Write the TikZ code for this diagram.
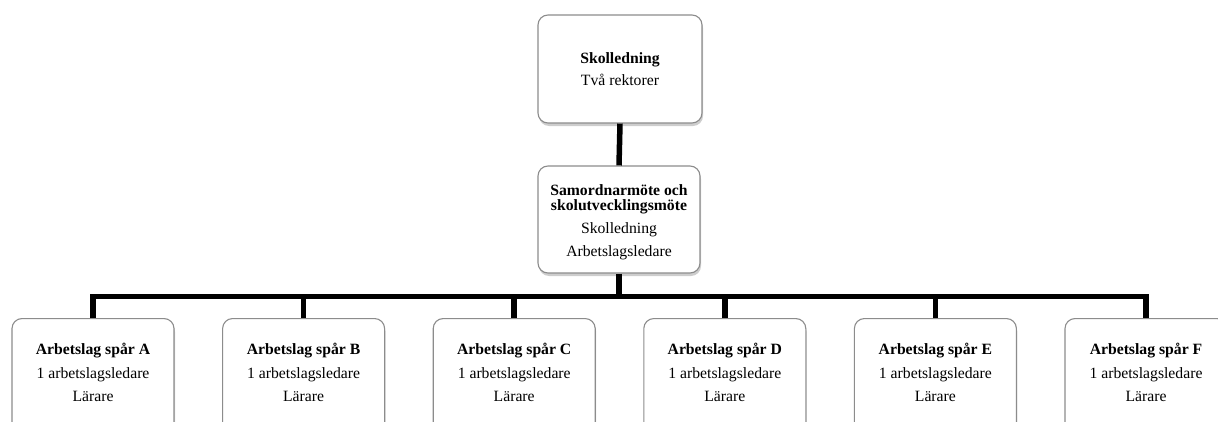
\documentclass[tikz,border=0pt]{standalone}
\usepackage{fontspec}
\setmainfont{Liberation Serif}
\usetikzlibrary{shadows}
\definecolor{boxgray}{RGB}{140,140,140}
\begin{document}
\begin{tikzpicture}[x=1bp,y=1bp,
  box/.style={draw=boxgray, line width=1.1bp, rounded corners=10bp, fill=white,
    drop shadow={shadow xshift=1bp, shadow yshift=-3bp, opacity=0.28, fill=black!70},
    inner sep=0pt},
  conn/.style={line width=5.5bp, black, line join=miter},
  txt/.style={font=\fontsize{15.7bp}{18bp}\selectfont, anchor=base, inner sep=0pt},
  btxt/.style={txt, font=\fontsize{15.7bp}{18bp}\selectfont\bfseries}]
\clip (0,0) rectangle (1218,421);
\useasboundingbox (0,0) rectangle (1218,421);
% boxes
\node[box, minimum width=164bp, minimum height=108bp] (top) at (620,352) {};
\node[box, minimum width=162bp, minimum height=107bp] (mid) at (619,201.5) {};
\foreach \n/\cx in {A/93, B/303.6, C/514.2, D/724.8, E/935.4, F/1146}{
  \node[box, minimum width=162bp, minimum height=140bp, anchor=north] (b\n) at (\cx,103) {};
}
% connectors
\coordinate (bar) at (0,124.5);
\draw[conn] (top.south) -- (mid.north);
\draw[conn] (mid.south) -- (mid.south |- bar);
\draw[conn] (bA.north) -- (bA.north |- bar) -- (bF.north |- bar) -- (bF.north);
\foreach \n in {B,C,D,E}{
  \draw[conn] (b\n.north) -- (b\n.north |- bar);
}
% texts
\node[btxt] (t1) at (620,358) {Skolledning};
\node[txt] (t2) at (620,336) {Två rektorer};
\node[btxt] (m1) at (619,226) {Samordnarmöte och};
\node[btxt] (m2) at (619,211) {skolutvecklingsmöte};
\node[txt] (m3) at (619,188) {Skolledning};
\node[txt] (m4) at (619,165) {Arbetslagsledare};
\foreach \n/\cx in {A/93, B/303.6, C/514.2, D/724.8, E/935.4, F/1146}{
  \node[btxt] (h\n) at (\cx,67) {Arbetslag spår \n};
  \node[txt] (l\n) at (\cx,43) {1 arbetslagsledare};
  \node[txt] (r\n) at (\cx,20) {Lärare};
}
\end{tikzpicture}
\end{document}
